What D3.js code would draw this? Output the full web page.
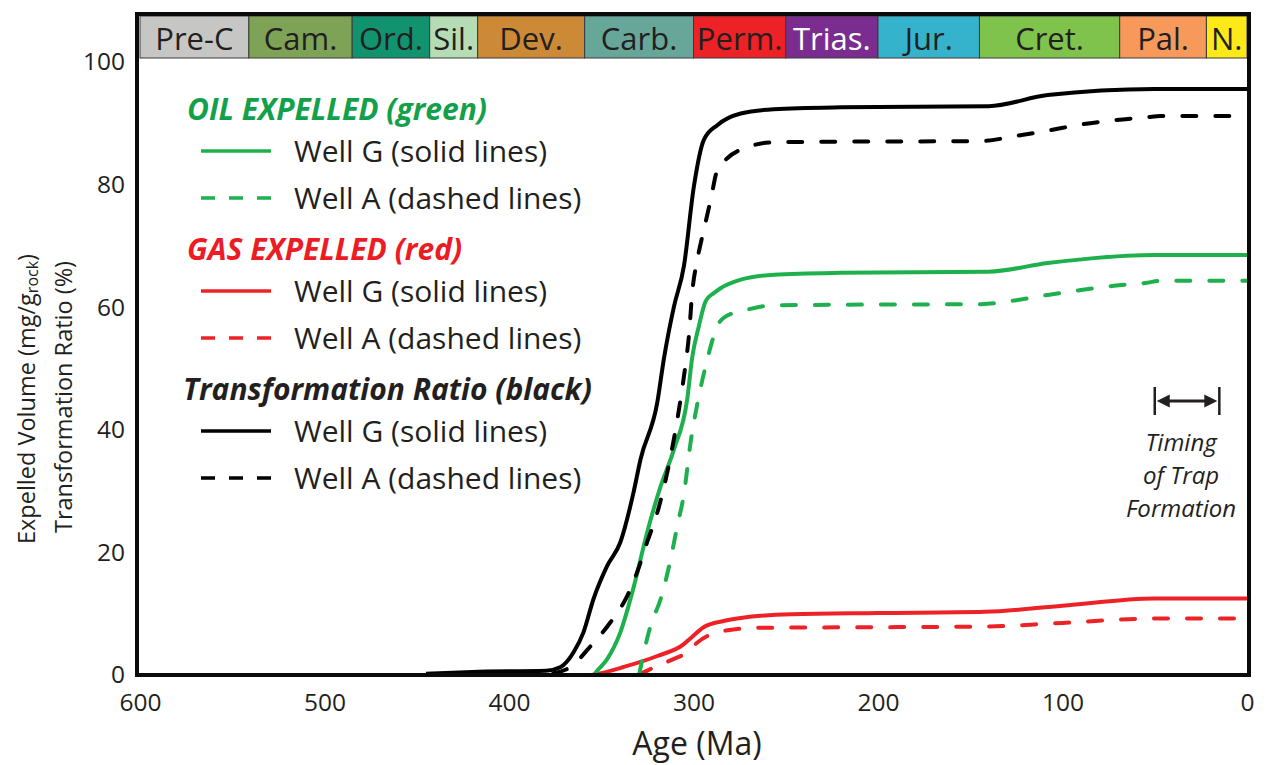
<!DOCTYPE html>
<html>
<head>
<meta charset="utf-8">
<script src="https://cdn.jsdelivr.net/npm/d3@7"></script>
<style>
  body { margin: 0; background: #fff; }
  svg { display: block; font-family: "Open Sans", "Noto Sans", sans-serif; }
</style>
</head>
<body>
<svg id="chart" width="1266" height="765"></svg>
<script>
// ---- Geologic time scale (Ma) ----
const periodNames  = ["Pre-C", "Cam.", "Ord.", "Sil.", "Dev.", "Carb.", "Perm.", "Trias.", "Jur.", "Cret.", "Pal.", "N."];
const periodBounds = [600, 541, 485, 443, 417, 359, 300, 250, 200, 145, 69, 22, 0];
const periodColors = ["#c6c6c5", "#7fa356", "#12936f", "#b5dcb5", "#cd8a36", "#67a79a",
                      "#ed2227", "#7b2c8f", "#35b2cc", "#7fc24c", "#f7995a", "#fde917"];
const periodTextColors = ["#231f20", "#231f20", "#231f20", "#231f20", "#231f20", "#231f20",
                          "#231f20", "#ffffff", "#231f20", "#231f20", "#231f20", "#231f20"];

// ---- Axis ticks ----
const xTicks = [600, 500, 400, 300, 200, 100, 0];
const yTicks = [0, 20, 40, 60, 80, 100];

// ---- Series: [age (Ma), value] ----
// Transformation ratio (%)
const trWellG = [[445, 0.2], [420, 0.5], [380, 0.7], [372, 1.3], [365, 3.7], [359.6, 7.0], [354.2, 12.4],
  [346.8, 17.8], [339.6, 21.7], [332.5, 29.8], [328.7, 35.2], [319.6, 44.5], [316.1, 51.5], [310.6, 60.1],
  [305.2, 66.7], [299.8, 79.7], [294.4, 87.3], [287.1, 89.7], [274.4, 91.6], [256.5, 92.3], [220, 92.6],
  [140, 92.8], [108, 94.6], [50, 95.6], [0, 95.6]];
const trWellA = [[376, 0.3], [366.7, 1.3], [355.8, 4.7], [345, 8.6], [335.9, 12.9], [330.5, 16.8],
  [325.1, 21.7], [319.6, 26.5], [312.4, 35.7], [307, 45], [304.3, 50.7], [302.5, 55.3], [300.7, 62.4],
  [297.9, 67.8], [294.4, 72.6], [290.7, 77.5], [287.1, 82.4], [281.7, 84.3], [272.7, 85.9], [256.4, 86.9],
  [220, 87.0], [144, 87.1], [126, 87.9], [108, 88.8], [90, 89.8], [72, 90.5], [54, 91.0], [47, 91.2], [0, 91.2]];
// Oil expelled (mg/g rock)
const oilWellG = [[354, 0], [352.2, 0.7], [346.8, 2.6], [339.6, 7.0], [332.3, 14.5], [325.1, 23.3],
  [317.8, 30.8], [310.6, 36.8], [303.4, 45], [300.7, 51.8], [297.1, 56.9], [293.4, 61], [289, 62.3],
  [285.3, 63.1], [274.4, 64.5], [256.4, 65.3], [220, 65.6], [140, 65.8], [108, 67.2], [50, 68.5], [0, 68.5]];
const oilWellA = [[329.5, 0], [326.9, 3.7], [323.3, 8.0], [317.8, 12.4], [312.4, 18.9], [308.8, 24.3],
  [305.2, 29.5], [301.6, 37.9], [297.9, 44.3], [292.5, 51.5], [290.7, 53.6], [287.1, 56.9], [283.5, 58.3],
  [270.8, 59.6], [256.4, 60.3], [220, 60.4], [144, 60.5], [126, 61.1], [108, 62.0], [90, 62.8], [72, 63.5],
  [54, 64.0], [47, 64.3], [0, 64.3]];
// Gas expelled (mg/g rock)
const gasWellG = [[355, 0], [350, 0.3], [337.9, 1.3], [319.6, 3.1], [305.4, 5.0], [301.6, 6.0], [294.5, 7.8],
  [283.7, 8.8], [274.4, 9.3], [247, 9.9], [200, 10.1], [142, 10.3], [100, 11.3], [50, 12.5], [0, 12.5]];
const gasWellA = [[330, 0], [319.6, 1.5], [310.8, 2.6], [303.4, 3.7], [297.9, 5.3], [289.1, 6.8], [281.5, 7.3],
  [265, 7.7], [200, 7.8], [142, 7.9], [100, 8.5], [50, 9.2], [0, 9.2]];

// Trap formation window (Ma)
const trapTiming = [50, 15];
const trapLabel = ["Timing", "of Trap", "Formation"];

// Legend groups
const legendTitles = ["OIL EXPELLED (green)", "GAS EXPELLED (red)", "Transformation Ratio (black)"];
const legendRows = ["Well G (solid lines)", "Well A (dashed lines)"];

// ---- Colours ----
const GREEN = "#1fb04e", GREEN_TXT = "#12a14a";
const RED = "#ed2227", RED_TXT = "#ed1c24";
const BLACK = "#000000", INK = "#231f20";

const svg = d3.select("#chart");

const x = d3.scaleLinear().domain([600, 0]).range([140, 1247]);
const y = d3.scaleLinear().domain([0, 100]).range([675, 62]);

// ---- Time scale band ----
const band = svg.append("g");
const bandTop = 16, bandBottom = 58;
periodNames.forEach((name, i) => {
  const x0 = Math.max(x(periodBounds[i]), 139);
  const x1 = x(periodBounds[i + 1]);
  band.append("rect")
    .attr("x", x0).attr("y", bandTop)
    .attr("width", x1 - x0).attr("height", bandBottom - bandTop)
    .attr("fill", periodColors[i])
    .attr("stroke", "#3a3a3a").attr("stroke-width", 1);
  band.append("text")
    .attr("x", (x0 + x1) / 2).attr("y", 49.5)
    .attr("text-anchor", "middle")
    .attr("font-size", 31)
    .attr("fill", periodTextColors[i])
    .text(name);
});

// ---- Curves ----
const line = d3.line()
  .x(d => x(d[0]))
  .y(d => y(d[1]))
  .curve(d3.curveMonotoneX);

const series = [
  { data: gasWellA, color: RED, dash: "14,19" },
  { data: gasWellG, color: RED, dash: null },
  { data: oilWellA, color: GREEN, dash: "14,19" },
  { data: oilWellG, color: GREEN, dash: null },
  { data: trWellA, color: BLACK, dash: "14,19" },
  { data: trWellG, color: BLACK, dash: null }
];
svg.append("g").selectAll("path").data(series).join("path")
  .attr("d", d => line(d.data))
  .attr("fill", "none")
  .attr("stroke", d => d.color)
  .attr("stroke-width", 4)
  .attr("stroke-linecap", d => d.dash ? "round" : "butt")
  .attr("stroke-linejoin", "round")
  .attr("stroke-dasharray", d => d.dash);

// ---- Frame ----
svg.append("rect")
  .attr("x", 137).attr("y", 14)
  .attr("width", 1112).attr("height", 661)
  .attr("fill", "none").attr("stroke", "#0a0a0a").attr("stroke-width", 4);

// ---- Axes ----
const xAxis = svg.append("g")
  .attr("transform", `translate(0,${y(0)})`)
  .call(d3.axisBottom(x).tickValues(xTicks).tickSize(0).tickPadding(19).tickFormat(d3.format("d")));
xAxis.select(".domain").remove();
xAxis.selectAll("text").attr("font-size", 24.5).attr("font-family", "Open Sans").attr("fill", INK);

const yAxis = svg.append("g")
  .attr("transform", `translate(${x(600) - 3},0)`)
  .call(d3.axisLeft(y).tickValues(yTicks).tickSize(0).tickPadding(12).tickFormat(d3.format("d")));
yAxis.select(".domain").remove();
yAxis.selectAll("text").attr("font-size", 24.5).attr("font-family", "Open Sans").attr("fill", INK);

// ---- Axis titles ----
svg.append("text")
  .attr("x", 697).attr("y", 755)
  .attr("text-anchor", "middle")
  .attr("font-size", 32)
  .attr("fill", INK)
  .text("Age (Ma)");

const yTitle = svg.append("text")
  .attr("transform", "translate(35,399) rotate(-90)")
  .attr("text-anchor", "middle")
  .attr("font-size", 23.5)
  .attr("fill", INK);
yTitle.append("tspan").text("Expelled Volume (mg/g");
yTitle.append("tspan").attr("font-size", 16).attr("dy", 3).text("rock");
yTitle.append("tspan").attr("dy", -3).text(")");

svg.append("text")
  .attr("transform", "translate(72,397) rotate(-90)")
  .attr("text-anchor", "middle")
  .attr("font-size", 23.5)
  .attr("fill", INK)
  .text("Transformation Ratio (%)");

// ---- Legend ----
const legend = svg.append("g");
const groupColors = [GREEN, RED, BLACK];
const titleColors = [GREEN_TXT, RED_TXT, INK];
const groupBase = [120, 260, 400];
legendTitles.forEach((t, gi) => {
  const gy = groupBase[gi];
  legend.append("text")
    .attr("x", gi === 2 ? 183 : 187).attr("y", gy)
    .attr("font-size", 30).attr("font-weight", 700).attr("font-style", "italic")
    .attr("fill", titleColors[gi])
    .text(t);
  legendRows.forEach((r, ri) => {
    const ly = gy + 31 + ri * 47;
    legend.append("line")
      .attr("x1", 201).attr("x2", 271)
      .attr("y1", ly).attr("y2", ly)
      .attr("stroke", groupColors[gi]).attr("stroke-width", 3.5)
      .attr("stroke-dasharray", ri === 1 ? "14,14" : null);
    legend.append("text")
      .attr("x", 294).attr("y", ly + 11)
      .attr("font-size", 30)
      .attr("fill", INK)
      .text(r);
  });
});

// ---- Trap formation timing ----
const trap = svg.append("g");
const tx0 = x(trapTiming[0]), tx1 = x(trapTiming[1]);
const ty = 401;
trap.append("line").attr("x1", tx0).attr("x2", tx0).attr("y1", ty - 14).attr("y2", ty + 14)
  .attr("stroke", INK).attr("stroke-width", 2.5);
trap.append("line").attr("x1", tx1).attr("x2", tx1).attr("y1", ty - 14).attr("y2", ty + 14)
  .attr("stroke", INK).attr("stroke-width", 2.5);
trap.append("line").attr("x1", tx0 + 8).attr("x2", tx1 - 8).attr("y1", ty).attr("y2", ty)
  .attr("stroke", INK).attr("stroke-width", 2.8);
trap.append("path")
  .attr("d", `M${tx0 + 2},${ty} L${tx0 + 15},${ty - 6.5} L${tx0 + 15},${ty + 6.5} Z`)
  .attr("fill", INK);
trap.append("path")
  .attr("d", `M${tx1 - 2},${ty} L${tx1 - 15},${ty - 6.5} L${tx1 - 15},${ty + 6.5} Z`)
  .attr("fill", INK);
trapLabel.forEach((t, i) => {
  trap.append("text")
    .attr("x", (tx0 + tx1) / 2 - 6).attr("y", 451 + i * 33)
    .attr("text-anchor", "middle")
    .attr("font-size", 24).attr("font-style", "italic")
    .attr("fill", INK)
    .text(t);
});
</script>
</body>
</html>
